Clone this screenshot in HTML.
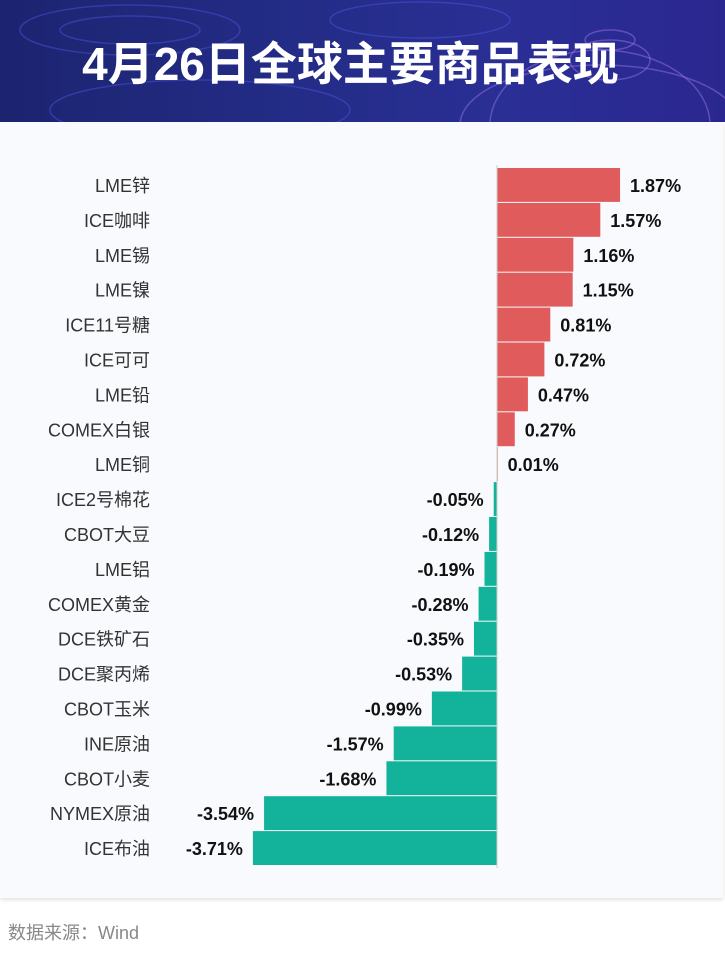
<!DOCTYPE html>
<html><head><meta charset="utf-8">
<style>
html,body{margin:0;padding:0;width:725px;height:954px;background:#fff;overflow:hidden;font-family:"Liberation Sans","Noto Sans CJK SC",sans-serif;}
#header{position:absolute;left:0;top:0;width:725px;height:122px;background:linear-gradient(90deg,#1c2470 0%,#232c86 40%,#2a2f95 70%,#2b2790 100%);overflow:hidden}
#title{position:absolute;left:0;width:701px;top:28px;text-align:center;color:#fff;font-size:46px;font-weight:bold;letter-spacing:0px;font-family:"Liberation Sans","Noto Sans CJK SC",sans-serif;}
#panel{position:absolute;left:0;top:122px;width:723px;height:776px;background:#f9fafd;box-shadow:0 2px 4px rgba(0,0,0,0.12)}
#source{position:absolute;left:8px;top:919px;font-size:18px;color:#888}
</style></head><body>
<div id="header">
<svg width="725" height="122" style="position:absolute;left:0;top:0">
<g fill="none" stroke="#4a50d8" stroke-opacity="0.5" stroke-width="1.5">
<ellipse cx="130" cy="30" rx="110" ry="25"/><ellipse cx="130" cy="30" rx="70" ry="14"/>
<ellipse cx="420" cy="20" rx="90" ry="18"/><ellipse cx="200" cy="110" rx="150" ry="30"/>
</g>
<g fill="none" stroke="#a07be8" stroke-opacity="0.45" stroke-width="1.5">
<ellipse cx="600" cy="125" rx="140" ry="60"/><ellipse cx="600" cy="125" rx="110" ry="75"/><ellipse cx="610" cy="60" rx="40" ry="20"/><ellipse cx="610" cy="40" rx="25" ry="10"/>
</g></svg>
<div id="title">4月26日全球主要商品表现</div>
</div>
<div id="panel"></div>
<svg id="chart" width="725" height="954" style="position:absolute;left:0;top:0"></svg>
<div id="source">数据来源：Wind</div>
<script>
const categories=["LME锌","ICE咖啡","LME锡","LME镍","ICE11号糖","ICE可可","LME铅","COMEX白银","LME铜","ICE2号棉花","CBOT大豆","LME铝","COMEX黄金","DCE铁矿石","DCE聚丙烯","CBOT玉米","INE原油","CBOT小麦","NYMEX原油","ICE布油"];
const values=[1.87,1.57,1.16,1.15,0.81,0.72,0.47,0.27,0.01,-0.05,-0.12,-0.19,-0.28,-0.35,-0.53,-0.99,-1.57,-1.68,-3.54,-3.71];
const valueLabels=["1.87%","1.57%","1.16%","1.15%","0.81%","0.72%","0.47%","0.27%","0.01%","-0.05%","-0.12%","-0.19%","-0.28%","-0.35%","-0.53%","-0.99%","-1.57%","-1.68%","-3.54%","-3.71%"];
const NS="http://www.w3.org/2000/svg";
const svg=document.getElementById('chart');
const x0=497,pxPer=65.8,top0=168,pitch=34.9;
const x=v=>x0+v*pxPer;
const y=i=>top0+i*pitch;
function mk(t,a){const e=document.createElementNS(NS,t);for(const k in a)e.setAttribute(k,a[k]);svg.appendChild(e);return e;}
categories.forEach((c,i)=>{
 const v=values[i];
 const r=mk('rect',{x:Math.min(x(v),x0),y:y(i),width:Math.max(Math.abs(x(v)-x0),0.8),height:pitch-1,fill:v>=0?'#e05c5c':'#12b29b'});
 
 
 const cy=y(i)+pitch/2+6.5;
 const l=mk('text',{x:150,y:cy,'text-anchor':'end','font-size':18,fill:'#333'});
 l.textContent=c;
 
 
 const vl=mk('text',{x:v>=0?x(v)+10:x(v)-10,y:cy,'text-anchor':v>=0?'start':'end','font-size':18,'font-weight':'bold',fill:'#111'});
 vl.textContent=valueLabels[i];
 
 
});
const ax=mk('line',{x1:x0,x2:x0,y1:165,y2:868,stroke:'#ccc','stroke-width':1});


</script>
</body></html>
